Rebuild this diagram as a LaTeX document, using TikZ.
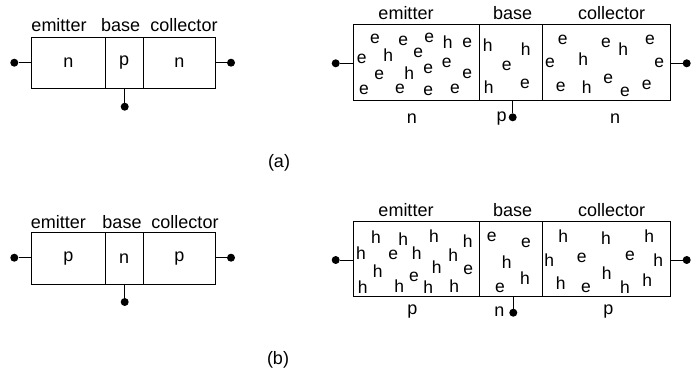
\documentclass[tikz,border=0pt]{standalone}
\usepackage{fontspec}
\setmainfont{Liberation Sans}
\usetikzlibrary{positioning}

\tikzset{
  region/.style={draw, line width=1pt, inner sep=0pt, outer sep=0pt,
    font=\fontsize{18}{18}\selectfont},
  term/.style={circle, fill, inner sep=0pt, minimum size=8pt},
  lead/.style={line width=1pt},
  lbl/.style={font=\fontsize{18}{18}\selectfont, inner sep=0pt},
  carrier/.style={font=\fontsize{17.5}{17.5}\selectfont, inner sep=0pt}
}

\begin{document}
\begin{tikzpicture}[x=1pt, y=-1pt]
  \useasboundingbox (0,0) rectangle (699,373);

  % (a) npn, plain
  \node[region, minimum width=73.3pt, minimum height=51.3pt, anchor=west] (naE) at (31.7,62.7) {n};
  \node[region, minimum width=38.3pt, minimum height=51.3pt, right=0pt of naE] (naB) {p};
  \node[region, minimum width=72pt, minimum height=51.3pt, right=0pt of naB] (naC) {n};
  \node[lbl] at (59,25) {emitter};
  \node[lbl] at (120.7,25) {base};
  \node[lbl] at (184,25) {collector};
  \node[term] (naL) at (14.3,62.7) {};
  \node[term] (naR) at (231,62.7) {};
  \node[term] (naT) at (124.7,106.7) {};
  \draw[lead] (naL) -- (naE);
  \draw[lead] (naR) -- (naC);
  \draw[lead] (naT) -- (naT |- naB.south);

  % (a) npn, with carriers
  \node[region, minimum width=126pt, minimum height=75.7pt, anchor=west] (ncE) at (353.3,62.2) {};
  \node[region, minimum width=63pt, minimum height=75.7pt, right=0pt of ncE] (ncB) {};
  \node[region, minimum width=128.4pt, minimum height=75.7pt, right=0pt of ncB] (ncC) {};
  \node[lbl] at (406,13.3) {emitter};
  \node[lbl] at (512.7,13.3) {base};
  \node[lbl] at (611.7,13.3) {collector};
  \node[lbl] at (412,118.3) {n};
  \node[lbl] at (501.7,118.3) {p};
  \node[lbl] at (615,118.3) {n};
  \node[term] (ncL) at (335.7,63.3) {};
  \node[term] (ncR) at (686.7,63.3) {};
  \node[term] (ncT) at (512.7,117.3) {};
  \draw[lead] (ncL) -- (ncL -| ncE.west);
  \draw[lead] (ncR) -- (ncR -| ncC.east);
  \draw[lead] (ncT) -- (ncT |- ncB.south);
  \foreach \x/\y/\c in {
    375/39.3/e, 403.3/40.7/e, 429.3/38.3/e, 447.7/41.7/h, 467.3/43.3/e,
    361.7/59.3/e, 388.3/55/h, 418.3/52.7/e, 379.3/75/e, 409.3/73.3/h,
    428.3/69.3/e, 446.7/63.3/e, 467.3/74/e, 364/90/e, 400/89.3/e,
    428.3/91/e, 455/89.3/e,
    487.7/45/h, 525.7/48.7/h, 506.7/66/e, 488.7/87.3/h, 525/84/e,
    562.7/40/e, 606/43.3/e, 623.3/49.3/h, 650/40/e, 550/62.7/e,
    583.3/59.3/h, 659.3/63.3/e, 560.7/87.3/e, 586.7/86.7/h, 608.3/78.7/e,
    625/91.7/e, 646.7/85/e}
    \node[carrier] at (\x,\y) {\c};

  \node[lbl] at (279,163) {(a)};

  % (b) pnp, plain
  \node[region, minimum width=73.3pt, minimum height=51.7pt, anchor=west] (pbE) at (31.7,258.2) {p};
  \node[region, minimum width=38.3pt, minimum height=51.7pt, right=0pt of pbE] (pbB) {n};
  \node[region, minimum width=72pt, minimum height=51.7pt, right=0pt of pbB] (pbC) {p};
  \node[lbl] at (58.3,222.3) {emitter};
  \node[lbl] at (122,222.3) {base};
  \node[lbl] at (185,222.3) {collector};
  \node[term] (pbL) at (14.3,257.7) {};
  \node[term] (pbR) at (231,257.7) {};
  \node[term] (pbT) at (124.7,302) {};
  \draw[lead] (pbL) -- (pbL -| pbE.west);
  \draw[lead] (pbR) -- (pbR -| pbC.east);
  \draw[lead] (pbT) -- (pbT |- pbB.south);

  % (b) pnp, with carriers
  \node[region, minimum width=126pt, minimum height=75.7pt, anchor=west] (pcE) at (353.3,258.9) {};
  \node[region, minimum width=63pt, minimum height=75.7pt, right=0pt of pcE] (pcB) {};
  \node[region, minimum width=128.4pt, minimum height=75.7pt, right=0pt of pcB] (pcC) {};
  \node[lbl] at (406,210) {emitter};
  \node[lbl] at (512.7,210) {base};
  \node[lbl] at (611.7,210) {collector};
  \node[lbl] at (412.3,311.7) {p};
  \node[lbl] at (499.3,311.7) {n};
  \node[lbl] at (608.3,311.7) {p};
  \node[term] (pcL) at (335.7,260) {};
  \node[term] (pcR) at (686.7,260) {};
  \node[term] (pcT) at (513.3,312.7) {};
  \draw[lead] (pcL) -- (pcL -| pcE.west);
  \draw[lead] (pcR) -- (pcR -| pcC.east);
  \draw[lead] (pcT) -- (pcT |- pcB.south);
  \foreach \x/\y/\c in {
    376/236.7/h, 403.3/239.3/h, 434/235.7/h, 467.7/240.7/h, 361/253.3/h,
    393.3/255/e, 416.7/253.3/h, 453.3/255.3/h, 377.7/270.7/h, 436.7/266.7/h,
    468.3/270/e, 362.7/286.7/h, 399.3/286/h, 414/277.3/e, 428.3/287.3/h,
    454.3/286/h,
    491.7/236.7/e, 526/242.7/e, 506.7/261.7/h, 525/278.3/h, 500/288.3/e,
    563.3/235.7/h, 606/238.3/h, 649.3/235.7/h, 549.3/260/h, 581.7/258.3/e,
    630/256/e, 658.3/260/h, 606.7/272.7/h, 560.7/282.7/h, 586/288.3/e,
    625/286.7/h, 647.3/280/h}
    \node[carrier] at (\x,\y) {\c};

  \node[lbl] at (278,360) {(b)};
\end{tikzpicture}
\end{document}
